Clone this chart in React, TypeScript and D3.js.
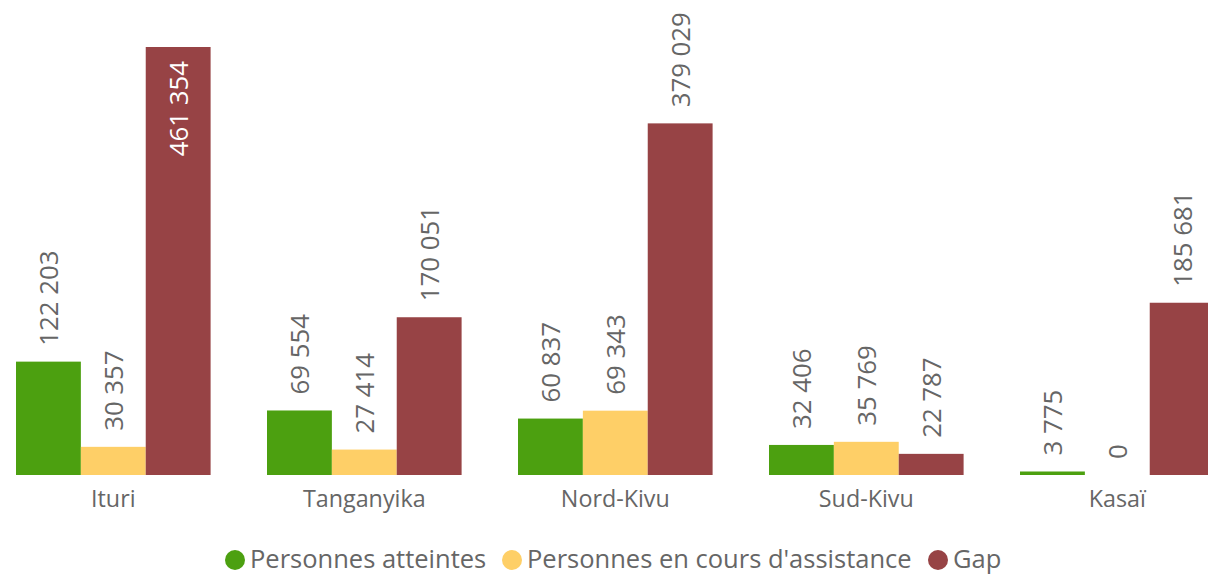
import React from 'react';
import * as d3 from 'd3';

const categories = ['Ituri', 'Tanganyika', 'Nord-Kivu', 'Sud-Kivu', 'Kasaï'];
const seriesNames = ['Personnes atteintes', "Personnes en cours d'assistance", 'Gap'];
const atteintes = [122203, 69554, 60837, 32406, 3775];
const enCours = [30357, 27414, 69343, 35769, 0];
const gap = [461354, 170051, 379029, 22787, 185681];
const colors = ['#4CA010', '#FECF67', '#974345'];

const width = 1208;
const height = 577;
const font = '"Segoe UI", "Open Sans", "Noto Sans", sans-serif';

const fmt = (v: number) => d3.format(',')(v).replace(/,/g, ' ');

// legend item positions (circle centre, text start)
const legendPos = [
  { cx: 235, tx: 250 },
  { cx: 512, tx: 527 },
  { cx: 938, tx: 953 },
];

const App = () => {
  const series = [atteintes, enCours, gap];

  // outer band per region, inner band per series
  const x0 = d3.scaleBand().domain(categories).range([16, 1214.6]).paddingInner(0.2247).paddingOuter(0);
  const x1 = d3.scaleBand().domain(seriesNames).range([0, x0.bandwidth()]).padding(0);
  const y = d3.scaleLinear().domain([0, d3.max(gap) as number]).range([475, 47]);

  const labelSize = 25.8;
  const charW = labelSize * 0.56;

  return (
    <svg width={width} height={height} style={{ position: 'absolute', left: 0, top: 0 }} fontFamily={font}>
      {categories.map((c, i) => (
        <g key={c} transform={`translate(${x0(c)},0)`}>
          {seriesNames.map((s, j) => {
            const v = series[j][i];
            const top = y(v);
            const bx = x1(s) as number;
            const bw = x1.bandwidth();
            const label = fmt(v);
            const len = label.length * charW;
            const inside = top - 14 - len < 0;
            const ty = inside ? top + 14 : top - 16;
            return (
              <g key={s}>
                <rect x={bx} y={top} width={bw} height={475 - top} fill={colors[j]} />
                <text
                  transform={`translate(${bx + bw / 2},${ty}) rotate(-90)`}
                  textAnchor={inside ? 'end' : 'start'}
                  dominantBaseline="central"
                  fontSize={labelSize}
                  fill={inside ? '#ffffff' : '#666666'}
                >
                  {label}
                </text>
              </g>
            );
          })}
          <text x={x0.bandwidth() / 2} y={507} textAnchor="middle" fontSize={23.3} fill="#666666">
            {c}
          </text>
        </g>
      ))}
      <g>
        {legendPos.map((p, j) => (
          <g key={seriesNames[j]}>
            <circle cx={p.cx} cy={560} r={10} fill={colors[j]} />
            <text x={p.tx} y={568} fontSize={25.5} fill="#666666">
              {seriesNames[j]}
            </text>
          </g>
        ))}
      </g>
    </svg>
  );
};

export default App;
